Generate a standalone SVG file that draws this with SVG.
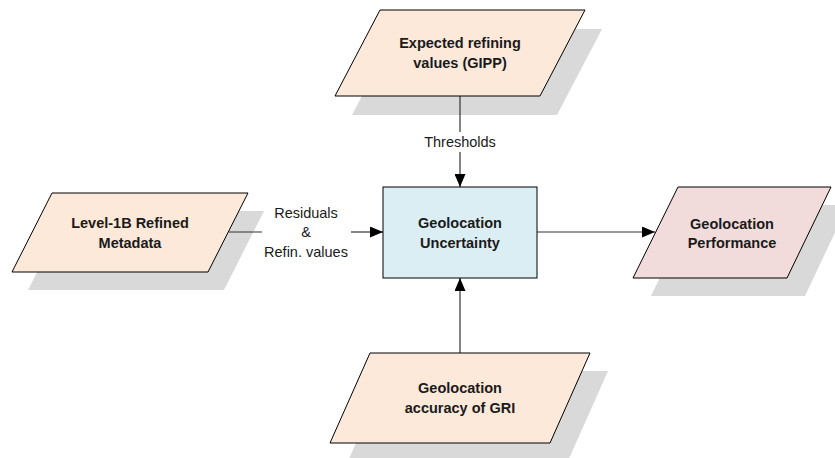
<svg xmlns="http://www.w3.org/2000/svg" width="835" height="458" viewBox="0 0 835 458">
<style>
.shadow{fill:#d9d9d9;stroke:none}
.shape{stroke:#000;stroke-width:1}
.peach{fill:#fce9da}
.blue{fill:#dbeef4}
.pink{fill:#f2dcdb}
.title{font-family:"Liberation Sans",Arial,sans-serif;font-weight:bold;font-size:14.5px;fill:#1a1a1a;text-anchor:middle}
.label{font-family:"Liberation Sans",Arial,sans-serif;font-size:14.5px;fill:#1a1a1a;text-anchor:middle}
.conn{stroke:#333;stroke-width:1.2;fill:none}
</style>
<defs>
<marker id="arrow" markerUnits="userSpaceOnUse" markerWidth="13" markerHeight="11" refX="13" refY="5.5" orient="auto">
<path d="M0,0 L13,5.5 L0,11 Z" fill="#000"/>
</marker>
</defs>
<g id="shadows">
<polygon class="shadow" points="397,29 602,29 557,115 352,115"/>
<polygon class="shadow" points="68,211 264,211 224,290 28,290"/>
<polygon class="shadow" points="695,205 848,205 805,296 651,296"/>
<polygon class="shadow" points="388,371 608,371 568,461 348,461"/>
</g>
<g id="connectors">
<line class="conn" x1="460" y1="96" x2="460" y2="132"/>
<line class="conn" x1="460" y1="152" x2="460" y2="187" marker-end="url(#arrow)"/>
<line class="conn" x1="229" y1="232" x2="262" y2="232"/>
<line class="conn" x1="351" y1="232" x2="383" y2="232" marker-end="url(#arrow)"/>
<line class="conn" x1="537" y1="232" x2="655" y2="232" marker-end="url(#arrow)"/>
<line class="conn" x1="460" y1="353" x2="460" y2="278" marker-end="url(#arrow)"/>
<text class="label" x="460" y="147">Thresholds</text>
<text class="label" x="306" y="218">Residuals</text>
<text class="label" x="306" y="237">&amp;</text>
<text class="label" x="306" y="257">Refin. values</text>
</g>
<g id="expected">
<polygon class="shape peach" points="380,10 585,10 540,96 335,96"/>
<text class="title" x="460" y="48">Expected refining</text>
<text class="title" x="460" y="68">values (GIPP)</text>
</g>
<g id="level1b">
<polygon class="shape peach" points="52,193 248,193 208,272 12,272"/>
<text class="title" x="130" y="228">Level-1B Refined</text>
<text class="title" x="130" y="248">Metadata</text>
</g>
<g id="uncertainty">
<rect class="shape blue" x="383" y="187" width="154" height="91"/>
<text class="title" x="460" y="228">Geolocation</text>
<text class="title" x="460" y="248">Uncertainty</text>
</g>
<g id="performance">
<polygon class="shape pink" points="678,187 831,187 787,278 633,278"/>
<text class="title" x="732" y="229">Geolocation</text>
<text class="title" x="732" y="248">Performance</text>
</g>
<g id="accuracy">
<polygon class="shape peach" points="370,353 590,353 550,443 330,443"/>
<text class="title" x="460" y="393">Geolocation</text>
<text class="title" x="460" y="413">accuracy of GRI</text>
</g>
</svg>
